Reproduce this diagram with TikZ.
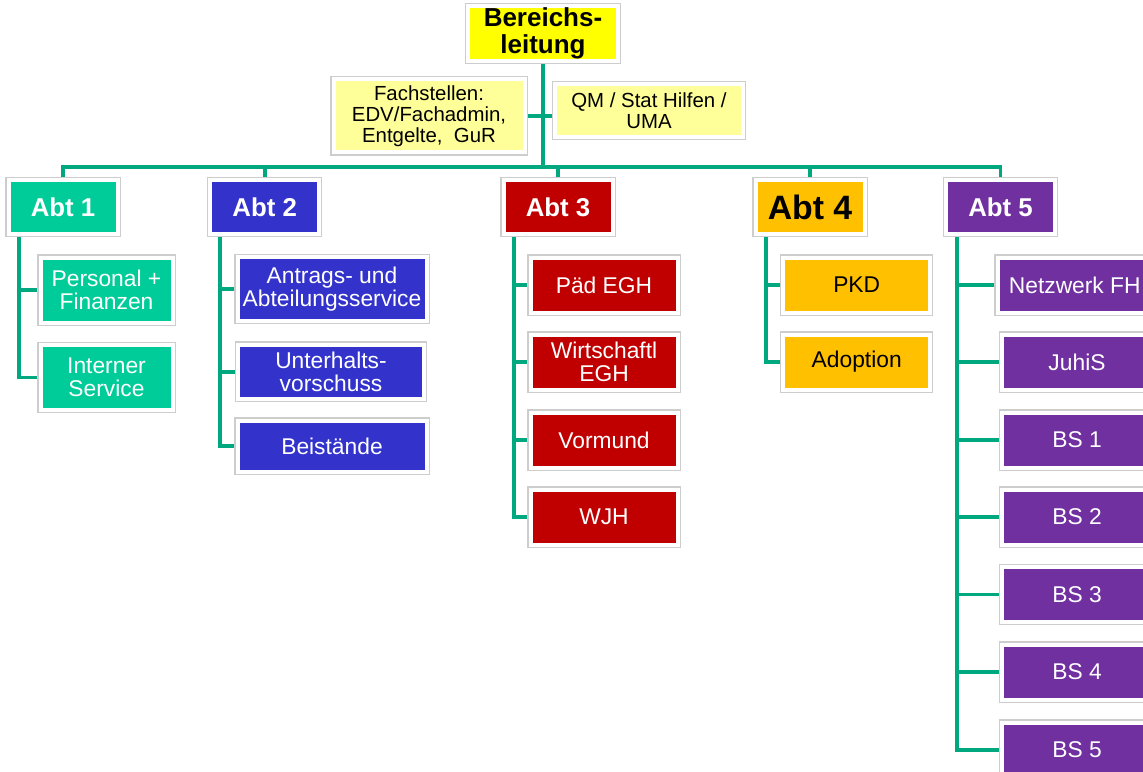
\documentclass[tikz,border=0pt]{standalone}
\usepackage{fontspec}
\setmainfont{Liberation Sans}
\usetikzlibrary{backgrounds}
\definecolor{cA}{RGB}{0,204,153}
\definecolor{cB}{RGB}{51,51,204}
\definecolor{cC}{RGB}{192,0,0}
\definecolor{cD}{RGB}{255,192,0}
\definecolor{cE}{RGB}{112,48,160}
\definecolor{cY}{RGB}{255,255,0}
\definecolor{cLY}{RGB}{255,255,153}
\definecolor{cLine}{RGB}{0,168,128}
\definecolor{cFrame}{RGB}{205,205,205}
\tikzset{
  box/.style={rectangle, inner sep=0pt, outer sep=0pt, align=center, draw=white, line width=4pt,
    preaction={draw=cFrame, line width=6.4pt}},
  headfont/.style={font=\fontsize{25.8}{27}\selectfont\bfseries},
  subfont/.style={font=\fontsize{22.8}{22.8}\selectfont},
  notefont/.style={font=\fontsize{20.4}{21}\selectfont},
  abtbox/.style={box, headfont, minimum width=109pt, minimum height=54pt},
  link/.style={draw=cLine, line width=3.8pt}
}
\begin{document}
\begin{tikzpicture}[x=1pt,y=-1pt]
\clip (0,0) rectangle (1143,771);

% top
\node[box, fill=cY, font=\fontsize{26}{27}\selectfont\bfseries, minimum width=150pt, minimum height=54.5pt] (bl) at (543,33.5) {Bereichs-\\leitung};
\node[box, fill=cLY, notefont, minimum width=191pt, minimum height=73pt] (fach) at (429,115.8) {Fachstellen:\\EDV/Fachadmin,\\Entgelte,\ \ GuR};
\node[box, fill=cLY, notefont, minimum width=188pt, minimum height=53pt] (qm) at (649,110.5) {QM / Stat Hilfen /\\UMA};
\coordinate (bus) at (543,167);

% departments
\node[abtbox, fill=cA, text=white] (a1) at (63,207) {Abt 1};
\node[abtbox, fill=cB, text=white] (a2) at (264.7,207) {Abt 2};
\node[abtbox, fill=cC, text=white] (a3) at (558,207) {Abt 3};
\node[abtbox, fill=cD, text=black, font=\fontsize{33.8}{34}\selectfont\bfseries] (a4) at (810,207) {Abt 4};
\node[abtbox, fill=cE, text=white] (a5) at (1000.5,207) {Abt 5};

% Abt 1 children
\node[box, fill=cA, text=white, subfont, minimum width=132pt, minimum height=65pt] (a1c1) at (106.5,290) {Personal +\\Finanzen};
\node[box, fill=cA, text=white, subfont, minimum width=132pt, minimum height=65pt] (a1c2) at (106.5,377.5) {Interner\\Service};

% Abt 2 children
\node[box, fill=cB, text=white, subfont, minimum width=189pt, minimum height=64pt] (a2c1) at (332,289) {Antrags- und\\Abteilungsservice};
\node[box, fill=cB, text=white, subfont, minimum width=186pt, minimum height=54pt] (a2c2) at (331,371.6) {Unterhalts-\\vorschuss};
\node[box, fill=cB, text=white, subfont, minimum width=189pt, minimum height=51pt] (a2c3) at (332,446) {Beistände};

% Abt 3 children
\node[box, fill=cC, text=white, subfont, minimum width=147pt, minimum height=55pt] (a3c1) at (604,285) {Päd EGH};
\node[box, fill=cC, text=white, subfont, minimum width=147pt, minimum height=55pt] (a3c2) at (604,362) {Wirtschaftl\\EGH};
\node[box, fill=cC, text=white, subfont, minimum width=147pt, minimum height=55pt] (a3c3) at (604,440) {Vormund};
\node[box, fill=cC, text=white, subfont, minimum width=147pt, minimum height=55pt] (a3c4) at (604,517) {WJH};

% Abt 4 children
\node[box, fill=cD, text=black, subfont, minimum width=147pt, minimum height=55pt] (a4c1) at (856.7,285) {PKD};
\node[box, fill=cD, text=black, subfont, minimum width=147pt, minimum height=55pt] (a4c2) at (856.7,362) {Adoption};

% Abt 5 children
\node[box, fill=cE, text=white, subfont, minimum width=154.5pt, minimum height=55pt] (a5c1) at (1074.75,285) {Netzwerk FH};
\node[box, fill=cE, text=white, subfont, minimum width=149.5pt, minimum height=55pt] (a5c2) at (1077,362) {JuhiS};
\node[box, fill=cE, text=white, subfont, minimum width=149.5pt, minimum height=55pt] (a5c3) at (1077,440) {BS 1};
\node[box, fill=cE, text=white, subfont, minimum width=149.5pt, minimum height=55pt] (a5c4) at (1077,517) {BS 2};
\node[box, fill=cE, text=white, subfont, minimum width=149.5pt, minimum height=55pt] (a5c5) at (1077,594.5) {BS 3};
\node[box, fill=cE, text=white, subfont, minimum width=149.5pt, minimum height=55pt] (a5c6) at (1077,672) {BS 4};
\node[box, fill=cE, text=white, subfont, minimum width=149.5pt, minimum height=55pt] (a5c7) at (1077,750) {BS 5};

\begin{scope}[on background layer]
  \fill[white] (0,0) rectangle (1143,771);
  \path[link] (bl.south) -- (bl.south |- bus);
  \path[link] (fach.east) -- (fach.east -| qm.west);
  \path[link] (a1.north) -- (a1.north |- bus) -- (a5.north |- bus) -- (a5.north);
  \foreach \a in {a2,a3,a4} { \path[link] (\a.north) -- (\a.north |- bus); }
  \path[link] ([xshift=10.5pt]a1.south west) |- (a1c1.west);
  \path[link] ([xshift=10.5pt]a1.south west) |- (a1c2.west);
  \foreach \c in {a2c1,a2c2,a2c3} { \path[link] ([xshift=9.5pt]a2.south west) |- (\c.west); }
  \foreach \c in {a3c1,a3c2,a3c3,a3c4} { \path[link] ([xshift=10.7pt]a3.south west) |- (\c.west); }
  \foreach \c in {a4c1,a4c2} { \path[link] ([xshift=10.7pt]a4.south west) |- (\c.west); }
  \foreach \c in {a5c1,a5c2,a5c3,a5c4,a5c5,a5c6,a5c7} { \path[link] ([xshift=11pt]a5.south west) |- (\c.west); }
\end{scope}
\end{tikzpicture}
\end{document}
